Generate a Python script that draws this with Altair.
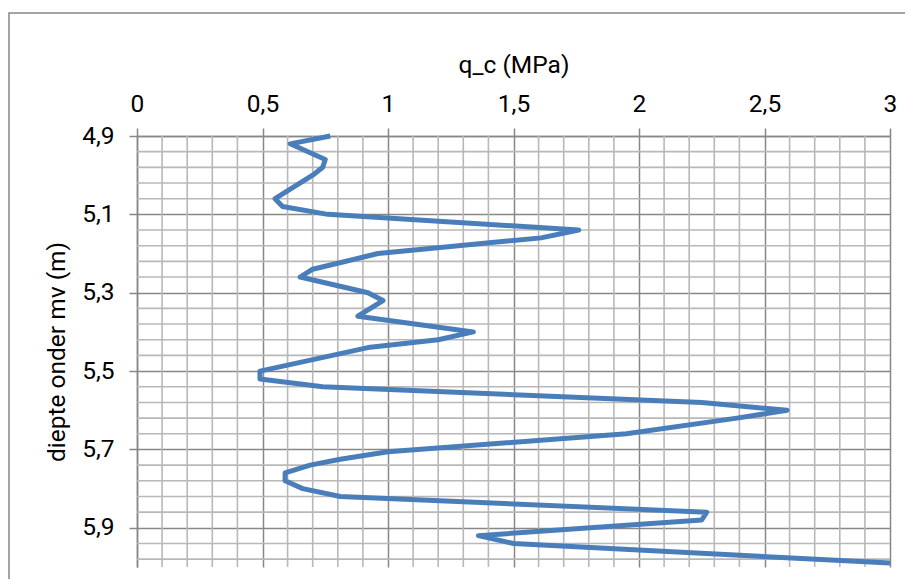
import altair as alt
import pandas as pd

# cone resistance profile
depth = [4.90, 4.92, 4.96, 4.98, 5.00, 5.06, 5.08, 5.10, 5.14, 5.16, 5.20, 5.24, 5.26,
         5.30, 5.32, 5.36, 5.40, 5.42, 5.44, 5.50, 5.52, 5.54, 5.58, 5.60, 5.62, 5.66,
         5.706, 5.725, 5.74, 5.76, 5.78, 5.80, 5.82, 5.86, 5.88, 5.92, 5.94, 5.99]
qc = [0.77, 0.61, 0.75, 0.74, 0.70, 0.55, 0.58, 0.76, 1.76, 1.61, 0.96, 0.70, 0.65,
      0.92, 0.98, 0.88, 1.34, 1.20, 0.92, 0.49, 0.49, 0.74, 2.25, 2.59, 2.39, 1.95,
      1.00, 0.81, 0.69, 0.59, 0.59, 0.66, 0.81, 2.27, 2.25, 1.36, 1.50, 3.00]

x_major = [0, 0.5, 1, 1.5, 2, 2.5, 3]
x_minor = [0.1, 0.2, 0.3, 0.4, 0.6, 0.7, 0.8, 0.9, 1.1, 1.2, 1.3, 1.4, 1.6, 1.7, 1.8, 1.9,
           2.1, 2.2, 2.3, 2.4, 2.6, 2.7, 2.8, 2.9]
y_major = [4.9, 5.1, 5.3, 5.5, 5.7, 5.9]
y_minor = [4.94, 4.98, 5.02, 5.06, 5.14, 5.18, 5.22, 5.26, 5.34, 5.38, 5.42, 5.46,
           5.54, 5.58, 5.62, 5.66, 5.74, 5.78, 5.82, 5.86, 5.94, 5.98]

X_DOMAIN = [0, 3]
Y_DOMAIN = [4.9, 6.0]

MAJOR = "#878787"
MINOR = "#b8b8b8"
FONT = "Roboto"

df = pd.DataFrame({"i": list(range(len(depth))), "depth": depth, "qc": qc})
xm = pd.DataFrame({"v": x_minor})
ym = pd.DataFrame({"v": y_minor})

xscale = alt.Scale(domain=X_DOMAIN, nice=False, zero=False)
yscale = alt.Scale(domain=Y_DOMAIN, nice=False, zero=False, reverse=True)

xaxis = alt.Axis(
    orient="top",
    values=x_major,
    title="q_c (MPa)",
    labelExpr="replace(toString(datum.value), '.', ',')",
    labelFlush=False,
    labelOverlap=False,
    labelPadding=12,
    titlePadding=14,
)
yaxis = alt.Axis(
    orient="left",
    values=y_major,
    title="diepte onder mv (m)",
    labelExpr="replace(format(datum.value, '.1f'), '.', ',')",
    labelFlush=False,
    labelOverlap=False,
    labelPadding=15,
    titlePadding=12,
)

minor_v = alt.Chart(xm).mark_rule(color=MINOR, strokeWidth=1.6).encode(
    x=alt.X("v:Q", scale=xscale, axis=xaxis)
)
minor_h = alt.Chart(ym).mark_rule(color=MINOR, strokeWidth=1.6).encode(
    y=alt.Y("v:Q", scale=yscale, axis=yaxis)
)

line = alt.Chart(df).mark_line(
    color="#4a7ebb", strokeWidth=5, strokeJoin="round", strokeCap="butt"
).encode(
    x=alt.X("qc:Q", scale=xscale, axis=xaxis),
    y=alt.Y("depth:Q", scale=yscale, axis=yaxis),
    order=alt.Order("i:Q"),
)

frame = alt.Chart(pd.DataFrame({"a": [0]})).mark_rect(
    filled=False, stroke=MAJOR, strokeWidth=1.5
).encode(
    x=alt.value(-128), x2=alt.value(800), y=alt.value(-123), y2=alt.value(600)
)

chart = alt.layer(minor_v, minor_h, line, frame).properties(
    width=753,
    height=431,
    padding={"left": 129, "top": 128, "right": 15, "bottom": 12},
    autosize=alt.AutoSizeParams(type="none"),
    background="white",
).configure_view(stroke=None).configure_axis(
    labelFont=FONT,
    labelFontSize=24.5,
    labelFontWeight="normal",
    labelColor="#000000",
    titleFont=FONT,
    titleFontSize=24.5,
    titleFontWeight="normal",
    titleColor="#000000",
    tickColor=MAJOR,
    tickSize=8,
    tickWidth=1.5,
    domainColor=MAJOR,
    domainWidth=1.5,
    grid=True,
    gridColor=MAJOR,
    gridWidth=1.5,
)

chart.save("out.html", embed_options={"renderer": "svg", "actions": False})
